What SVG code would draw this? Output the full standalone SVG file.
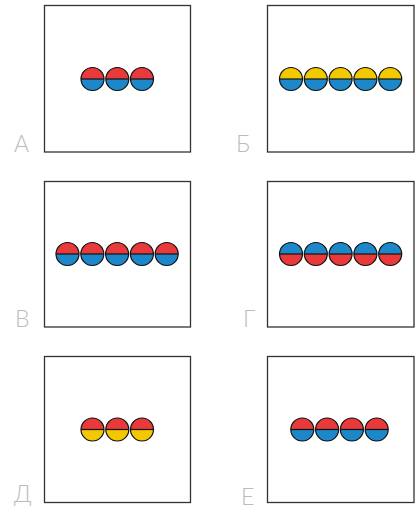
<svg xmlns="http://www.w3.org/2000/svg" xmlns:xlink="http://www.w3.org/1999/xlink" width="416" height="511" viewBox="0 0 416 511">
<style>
.box{fill:#fff;stroke:#333;stroke-width:1.3}
.lbl{font-family:Lato,"Open Sans","Liberation Sans",sans-serif;font-weight:300;font-size:23px;fill:#bbbbbb}
.r{fill:#e8393b}
.b{fill:#1c87c9}
.y{fill:#f2c800}
.o{fill:none;stroke:#111;stroke-width:1.2}
</style>
<defs>
<path id="top" d="M-11.5 0A11.5 11.5 0 0 1 11.5 0Z"/>
<path id="bot" d="M-11.5 0A11.5 11.5 0 0 0 11.5 0Z"/>
<g id="outline"><circle r="11.5" class="o"/><line x1="-11.5" y1="0" x2="11.5" y2="0" class="o"/></g>
<g id="rb"><use xlink:href="#top" class="r"/><use xlink:href="#bot" class="b"/><use xlink:href="#outline"/></g>
<g id="yb"><use xlink:href="#top" class="y"/><use xlink:href="#bot" class="b"/><use xlink:href="#outline"/></g>
<g id="br"><use xlink:href="#top" class="b"/><use xlink:href="#bot" class="r"/><use xlink:href="#outline"/></g>
<g id="ry"><use xlink:href="#top" class="r"/><use xlink:href="#bot" class="y"/><use xlink:href="#outline"/></g>
</defs>
<g id="panelA">
<rect class="box" x="44.5" y="5.5" width="146" height="146.5"/>
<use xlink:href="#rb" x="92.5" y="79"/><use xlink:href="#rb" x="117.3" y="79"/><use xlink:href="#rb" x="142" y="79"/>
<text class="lbl" x="14" y="152">А</text>
</g>
<g id="panelB6">
<rect class="box" x="267.5" y="5.5" width="146.5" height="146.5"/>
<use xlink:href="#yb" x="291" y="79"/><use xlink:href="#yb" x="315.8" y="79"/><use xlink:href="#yb" x="340.6" y="79"/><use xlink:href="#yb" x="365.4" y="79"/><use xlink:href="#yb" x="390.2" y="79"/>
<text class="lbl" x="236" y="152">Б</text>
</g>
<g id="panelV">
<rect class="box" x="44.5" y="181.5" width="146" height="145.5"/>
<use xlink:href="#rb" x="67.5" y="254"/><use xlink:href="#rb" x="92.3" y="254"/><use xlink:href="#rb" x="117.1" y="254"/><use xlink:href="#rb" x="141.9" y="254"/><use xlink:href="#rb" x="166.7" y="254"/>
<text class="lbl" x="15" y="327">В</text>
</g>
<g id="panelG">
<rect class="box" x="267.5" y="181.5" width="146.5" height="145.5"/>
<use xlink:href="#br" x="291" y="254"/><use xlink:href="#br" x="315.8" y="254"/><use xlink:href="#br" x="340.6" y="254"/><use xlink:href="#br" x="365.4" y="254"/><use xlink:href="#br" x="390.2" y="254"/>
<text class="lbl" x="243" y="327">Г</text>
</g>
<g id="panelD">
<rect class="box" x="44.5" y="356.5" width="146" height="146"/>
<use xlink:href="#ry" x="92.5" y="429.5"/><use xlink:href="#ry" x="117.3" y="429.5"/><use xlink:href="#ry" x="142" y="429.5"/>
<text class="lbl" x="14" y="502">Д</text>
</g>
<g id="panelE">
<rect class="box" x="267.5" y="356.5" width="146.5" height="146"/>
<use xlink:href="#rb" x="302.3" y="429.5"/><use xlink:href="#rb" x="327.1" y="429.5"/><use xlink:href="#rb" x="351.9" y="429.5"/><use xlink:href="#rb" x="376.7" y="429.5"/>
<text class="lbl" x="241" y="505">Е</text>
</g>
</svg>
